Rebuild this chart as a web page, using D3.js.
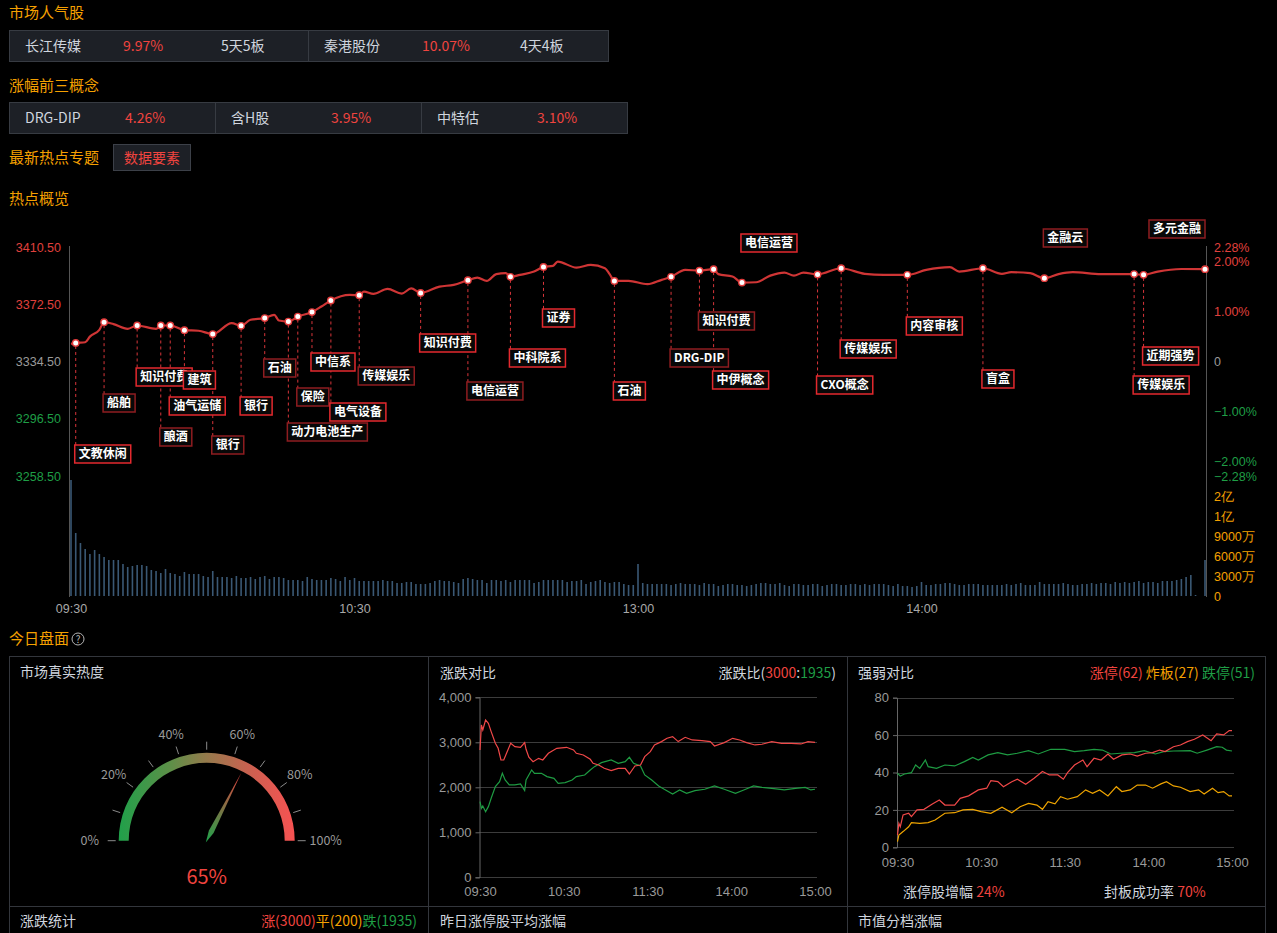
<!DOCTYPE html>
<html>
<head>
<meta charset="utf-8">
<script src="https://cdn.jsdelivr.net/npm/d3@7"></script>
<style>
  body { margin: 0; background: #000; }
  svg { display: block; font-family: "Noto Sans CJK SC", "Noto Sans", sans-serif; }
</style>
</head>
<body>
<svg width="1277" height="933"></svg>
<script>
"use strict";

// ---------- data ----------
const hotStockNames = ["长江传媒", "秦港股份"];
const hotStockChange = ["9.97%", "10.07%"];
const hotStockBoards = ["5天5板", "4天4板"];
const conceptNames = ["DRG-DIP", "含H股", "中特估"];
const conceptChange = ["4.26%", "3.95%", "3.10%"];
const topicNames = ["数据要素"];

const baseClose = 3334.5;
const priceTicks = [3410.5, 3372.5, 3334.5, 3296.5, 3258.5];
const pctTicks = [2.28, 2, 1, 0, -1, -2, -2.28];
const volTicks = [0, 3000, 6000, 9000, 10000, 20000]; // 万
const volTickLabels = ["0", "3000万", "6000万", "9000万", "1亿", "2亿"];
const mainTimeTicks = [0, 60, 120, 180];
const mainTimeLabels = ["09:30", "10:30", "13:00", "14:00"];

// minutes since 09:30 (lunch removed) and index level
const priceMinute = [0,1,3,4,6,7,9,12,14,18,19,21,24,27,30,34,36,38,41,43,44,46,48,51,53,55,59,61,62,64,67,70,72,74,78,81,84,86,88,90,92,93,95,98,100,102,103,107,110,113,114,115,118,122,125,127,130,133,136,137,140,142,145,148,151,153,155,158,163,168,172,177,181,186,188,193,197,199,203,206,209,212,218,225,227,230,235,240];
const priceValue = [3346.2,3346.8,3347.3,3351.0,3355.5,3360.6,3359.3,3356.2,3358.4,3356.2,3358.4,3358.4,3355.3,3354.9,3352.7,3360.0,3358.2,3362.2,3363.3,3365.5,3361.7,3361.0,3364.3,3367.3,3371.0,3375.0,3378.7,3378.5,3380.9,3379.4,3382.7,3379.6,3383.0,3380.0,3384.2,3385.4,3388.5,3390.2,3388.0,3392.5,3393.1,3390.7,3392.0,3394.2,3397.3,3398.0,3400.8,3396.8,3398.6,3396.4,3392.5,3388.0,3388.0,3385.8,3388.7,3390.7,3395.3,3394.8,3395.8,3392.5,3390.9,3386.9,3387.1,3391.5,3393.5,3391.5,3393.5,3392.3,3396.4,3392.7,3392.0,3392.0,3395.3,3397.1,3394.2,3396.4,3392.7,3393.8,3393.1,3389.8,3392.5,3393.8,3392.5,3392.5,3392.0,3394.2,3395.9,3395.8];

// turnover per minute, 万
const volume = [
  28000,9150,7950,7050,6300,6900,6300,5850,5400,5400,
  5400,4800,4350,4500,4650,4650,4500,3900,3750,3450,
  4050,3450,3300,3000,3600,3300,3300,3300,3000,2850,
  3750,2850,2850,2850,2700,3000,2700,2700,2850,2550,
  2850,3000,2550,2850,2850,2700,2400,2400,2400,2250,
  2850,2550,2400,2400,2400,2700,2550,2250,2850,2400,
  2700,2250,2250,2250,2250,2250,2400,2250,2250,1950,
  1950,2100,2100,1800,1800,1800,1950,2250,2400,2250,
  2250,2100,1950,2550,2700,2550,2400,2400,1950,2400,
  2400,2250,2400,2100,2400,2400,2400,2400,1950,2100,
  2400,2400,2400,2400,2400,2100,2250,2250,2400,1800,
  2100,2250,2400,2100,1950,2100,2100,1800,1650,1650,
  4800,
  1950,1800,1800,1800,1800,1800,1650,1800,1950,1800,
  1800,1800,1650,1950,1800,1800,1500,1650,1800,1800,
  1650,1650,1500,1650,1800,1950,1950,1800,1800,1950,
  1650,1500,1800,1800,1650,1650,1800,1800,1500,1650,
  1800,1800,1650,1650,1800,1800,1650,1800,1650,1800,
  1800,1800,1650,1500,1800,1500,1500,1350,1500,2100,
  1650,1650,1800,1800,1950,1950,1800,1650,1650,1800,
  1800,1800,1650,1650,1650,1650,1650,1800,1650,1800,
  1950,1650,1650,1650,2100,1800,1800,1800,1800,1950,
  1800,1650,1650,1800,1800,1950,1800,1950,1950,1800,
  2100,1950,2100,1950,2100,2250,1950,2100,2100,1950,
  2250,2250,2250,2400,2550,2850,3150,150,0,5400
];

// hot topics marked on the index line
const hotMinute = [1,7,14,19,21,24,30,36,41,46,48,51,55,61,74,84,93,100,115,127,133,136,142,158,163,177,193,206,225,227,240];
const hotNames = ["文教休闲","船舶","知识付费","酿酒","油气运储","建筑","银行","银行","石油","动力电池生产","保险","中信系","电气设备","传媒娱乐","知识付费","电信运营","中科院系","证券","石油","DRG-DIP","知识付费","中伊概念","电信运营","CXO概念","传媒娱乐","内容审核","盲盒","金融云","传媒娱乐","近期强势","多元金融"];

// label placement (layout only): box top in px, bright border or not
const hotLabelTop = [445,394,368,428,397,371,436,397,359,423,388,353,403,367,334,382,349,309,382,349,312,371,234,376,340,317,370,229,376,347,220];
const hotLabelBright = [1,0,1,0,1,1,0,1,0,0,0,1,1,0,1,0,1,1,1,0,0,1,1,1,1,1,1,0,1,1,0];

// today's board
const heatValue = 65;
const heatLabels = [0, 20, 40, 60, 80, 100];
const heatTicks = [0, 10, 20, 30, 40, 50, 60, 70, 80, 90, 100];
const upTotal = 3000, flatTotal = 200, downTotal = 1935;
const limitUpTotal = 62, brokenTotal = 27, limitDownTotal = 51;
const limitUpGrowth = "24%", sealRate = "70%";

const miniTimeTicks = [0, 60, 120, 180, 240];
const miniTimeLabels = ["09:30", "10:30", "11:30", "14:00", "15:00"];
const upDownTicks = [0, 1000, 2000, 3000, 4000];
const limitTicks = [0, 20, 40, 60, 80];

const upCount = [[0,2830],[1,3385],[2,3274],[4,3496],[6,3422],[8,3237],[11,2978],[13,2867],[15,2607],[17,2607],[19,2755],[22,2978],[25,2904],[29,2889],[32,2993],[33,2844],[35,2667],[38,2570],[42,2644],[45,2607],[49,2756],[55,2867],[62,2889],[67,2830],[69,2756],[74,2718],[79,2622],[81,2533],[85,2496],[89,2422],[94,2370],[99,2422],[104,2422],[107,2296],[111,2474],[115,2496],[118,2681],[122,2793],[125,2941],[130,3015],[134,3089],[138,3126],[142,3015],[147,3111],[152,3052],[159,3037],[165,3015],[168,2919],[175,2993],[181,3089],[186,3052],[191,2993],[197,2941],[202,2956],[209,3015],[216,2978],[223,2978],[230,2963],[235,3015],[240,3000]];
const downCount = [[0,1681],[1,1533],[2,1585],[4,1459],[6,1570],[8,1756],[11,2015],[14,2126],[16,2311],[18,2163],[21,2052],[25,2052],[29,2074],[32,1926],[33,2163],[37,2385],[39,2311],[44,2311],[48,2237],[53,2200],[56,2089],[61,2104],[66,2163],[69,2237],[75,2274],[79,2385],[82,2459],[87,2548],[94,2607],[99,2533],[104,2570],[107,2667],[110,2533],[115,2474],[118,2274],[123,2163],[128,2030],[132,1956],[138,1852],[143,1941],[148,1867],[154,1926],[161,1956],[168,2030],[175,1956],[183,1867],[189,1941],[196,2030],[202,2000],[209,1978],[218,1941],[226,1978],[233,1998],[237,1941],[240,1956]];

const limitUp = [[0,6.6],[1,12.8],[2,11],[4,17.3],[8,18.2],[10,16.4],[14,20],[19,20.3],[25,23.2],[30,25.3],[34,22.6],[41,22.6],[45,26.2],[51,27.5],[58,30.7],[64,31.6],[67,35.7],[72,35.1],[76,32.4],[82,35.1],[86,36.4],[92,33.7],[98,36.9],[104,40.5],[109,38.7],[115,38.7],[119,36.4],[122,39.9],[127,44],[133,46.7],[136,43.1],[141,47.6],[146,46.7],[151,49.9],[155,47.1],[161,49.4],[167,49.9],[172,48.8],[178,50.3],[183,50.6],[188,52],[192,51.2],[198,53.8],[203,54.7],[208,56.5],[213,57.8],[219,60.1],[225,57],[229,60.6],[234,60.1],[238,62.4],[240,62.4]];
const limitBroken = [[0,3],[1,6.6],[4,8.4],[8,11],[10,13.2],[16,12.8],[22,13.2],[27,14.6],[34,18.2],[41,18.5],[47,20],[54,20.3],[60,19.1],[67,18.2],[75,21.4],[82,18.5],[88,21.7],[94,23.5],[100,22.6],[104,20.3],[108,24.4],[113,23.2],[117,27.1],[122,25.7],[129,27.1],[135,30.7],[140,28.9],[145,30.7],[151,27.5],[157,32.4],[161,29.8],[167,30.7],[172,33.3],[178,33.3],[183,31.6],[189,33.9],[193,35.1],[198,32.8],[203,32.1],[210,29.8],[216,30.7],[220,28.5],[226,31.6],[230,29.2],[234,29.8],[238,27.5],[240,27.5]];
const limitDown = [[0,39.6],[2,38.1],[5,39.2],[10,39.9],[13,44],[16,42.2],[20,46.7],[22,43.1],[28,42.2],[34,44],[41,43.5],[48,45.8],[54,48.1],[58,46.7],[65,49.4],[72,50.6],[79,49.4],[86,50.3],[94,51.7],[101,49.9],[110,52.4],[120,52.4],[127,51.2],[134,51.7],[141,52.4],[147,52],[153,49.9],[160,50.3],[170,50.6],[177,51.7],[185,49.9],[191,51.2],[198,51.5],[210,51.7],[215,50.3],[222,52],[229,53.8],[233,53.5],[236,52],[240,51.5]];

// ---------- style ----------
const RED = "#f0443f";
const GREEN = "#1f9e46";
const ORANGE = "#f5a000";
const GRAY = "#9a9a9a";
const LIGHT = "#cfd5de";
const CARD = "#1d2026";
const CARD_LINE = "#373b42";
const PANEL_LINE = "#33363c";

const svg = d3.select("svg");

const sectionTitle = (txt, y) =>
  svg.append("text")
    .attr("x", 9).attr("y", y).attr("dy", "0.35em")
    .attr("fill", ORANGE).attr("font-size", 15)
    .text(txt);

const plainText = (txt, x, y, color, size, anchor) =>
  svg.append("text")
    .attr("x", x).attr("y", y).attr("dy", "0.35em")
    .attr("fill", color).attr("font-size", size || 14)
    .attr("text-anchor", anchor || "start")
    .text(txt);

// ---------- top cards ----------
sectionTitle("市场人气股", 13);
svg.append("rect").attr("x", 9.5).attr("y", 30.5).attr("width", 599).attr("height", 31)
  .attr("fill", CARD).attr("stroke", CARD_LINE);
svg.append("line").attr("x1", 308.5).attr("x2", 308.5).attr("y1", 31).attr("y2", 61).attr("stroke", CARD_LINE);
hotStockNames.forEach((n, i) => {
  const ox = i * 299;
  plainText(n, 25 + ox, 46, LIGHT);
  plainText(hotStockChange[i], 123 + ox, 46, RED);
  plainText(hotStockBoards[i], 221 + ox, 46, LIGHT);
});

sectionTitle("涨幅前三概念", 86);
svg.append("rect").attr("x", 9.5).attr("y", 102.5).attr("width", 618).attr("height", 31)
  .attr("fill", CARD).attr("stroke", CARD_LINE);
[215.5, 421.5].forEach(d =>
  svg.append("line").attr("x1", d).attr("x2", d).attr("y1", 103).attr("y2", 133).attr("stroke", CARD_LINE));
conceptNames.forEach((n, i) => {
  const ox = i * 206;
  plainText(n, 25 + ox, 118, LIGHT);
  plainText(conceptChange[i], 125 + ox, 118, RED);
});

sectionTitle("最新热点专题", 158);
topicNames.forEach((n, i) => {
  svg.append("rect").attr("x", 113.5 + i * 90).attr("y", 144.5).attr("width", 77).attr("height", 26)
    .attr("fill", CARD).attr("stroke", "#3c4048");
  plainText(n, 152 + i * 90, 158, RED, 14, "middle");
});

sectionTitle("热点概览", 199);

// ---------- main chart ----------
const x = d3.scaleLinear().domain([0, 240]).range([71, 1205]);
const yPrice = d3.scaleLinear().domain([3258.5, 3410.5]).range([476, 247]);
const yPct = d3.scaleLinear().domain([-2.28, 2.28]).range([476, 247]);
const yVol = d3.scaleLinear().domain(volTicks).range([596, 576, 556, 536, 516, 496]);

const main = svg.append("g");

main.append("line").attr("x1", 69.5).attr("x2", 69.5).attr("y1", 246).attr("y2", 597).attr("stroke", "#555");
main.append("line").attr("x1", 1206.5).attr("x2", 1206.5).attr("y1", 246).attr("y2", 597).attr("stroke", "#555");

const priceColor = v => v > baseClose ? "#e0403d" : v < baseClose ? GREEN : GRAY;

const leftAxisG = main.append("g").attr("transform", "translate(69,0)")
  .call(d3.axisLeft(yPrice).tickValues(priceTicks).tickFormat(d3.format(".2f")).tickSize(0).tickPadding(8));
leftAxisG.select(".domain").remove();
leftAxisG.selectAll("text").attr("font-size", 12.5).attr("font-family", null)
  .attr("fill", d => priceColor(d));

const rightAxisG = main.append("g").attr("transform", "translate(1206,0)")
  .call(d3.axisRight(yPct).tickValues(pctTicks)
    .tickFormat(d => d === 0 ? "0" : d3.format(".2f")(d) + "%").tickSize(0).tickPadding(8));
rightAxisG.select(".domain").remove();
rightAxisG.selectAll("text").attr("font-size", 12.5).attr("font-family", null)
  .attr("fill", d => d > 0 ? "#e0403d" : d < 0 ? GREEN : GRAY);

const volAxisG = main.append("g").attr("transform", "translate(1206,0)")
  .call(d3.axisRight(yVol).tickValues(volTicks).tickFormat((d, i) => volTickLabels[i]).tickSize(0).tickPadding(8));
volAxisG.select(".domain").remove();
volAxisG.selectAll("text").attr("font-size", 12.5).attr("font-family", null).attr("fill", ORANGE);

const timeAxisG = main.append("g").attr("transform", "translate(0,600)")
  .call(d3.axisBottom(x).tickValues(mainTimeTicks).tickFormat((d, i) => mainTimeLabels[i]).tickSize(0).tickPadding(4));
timeAxisG.select(".domain").remove();
timeAxisG.selectAll("text").attr("font-size", 12.5).attr("font-family", null).attr("fill", "#a8a8a8");

// volume bars
main.append("g").selectAll("rect")
  .data(volume)
  .enter()
  .append("rect")
  .attr("x", (d, i) => x(i) - 0.8)
  .attr("width", 1.6)
  .attr("y", d => yVol(d))
  .attr("height", d => yVol(0) - yVol(d))
  .attr("fill", "#3a5874");

// index line
const pricePts = priceMinute.map((m, i) => [m, priceValue[i]]);
const priceAt = m => priceValue[priceMinute.indexOf(m)];

const hot = hotMinute.map((m, i) => ({
  m, name: hotNames[i], top: hotLabelTop[i], bright: hotLabelBright[i],
  px: x(m), py: yPrice(priceAt(m))
}));

main.append("g").selectAll("line")
  .data(hot.filter(d => d.top > d.py))
  .enter()
  .append("line")
  .attr("x1", d => d.px).attr("x2", d => d.px)
  .attr("y1", d => d.py + 3).attr("y2", d => d.top)
  .attr("stroke", "#d9353a").attr("stroke-width", 1)
  .attr("stroke-dasharray", "3,3");

main.append("path")
  .datum(pricePts)
  .attr("fill", "none")
  .attr("stroke", "#cf3535")
  .attr("stroke-width", 2.2)
  .attr("d", d3.line().x(d => x(d[0])).y(d => yPrice(d[1])).curve(d3.curveMonotoneX));

main.append("g").selectAll("circle")
  .data(hot)
  .enter()
  .append("circle")
  .attr("cx", d => d.px).attr("cy", d => d.py)
  .attr("r", 3.2)
  .attr("fill", "#fff")
  .attr("stroke", "#e03a3a")
  .attr("stroke-width", 1.4);

const labelG = main.append("g");
hot.forEach(d => {
  const g = labelG.append("g");
  const rect = g.append("rect");
  const t = g.append("text")
    .attr("y", d.top + 9).attr("dy", "0.36em")
    .attr("fill", "#fff").attr("font-size", 12).attr("font-weight", "bold")
    .text(d.name);
  const w = t.node().getComputedTextLength() + 8;
  const bx = Math.min(d.px - 1, 1205 - w);
  t.attr("x", bx + 4);
  rect.attr("x", bx).attr("y", d.top).attr("width", w).attr("height", 18)
    .attr("fill", "#080808")
    .attr("stroke", d.bright ? "#e3292e" : "#8e1d20")
    .attr("stroke-width", 1.5);
});

// ---------- today's board ----------
sectionTitle("今日盘面", 639);
svg.append("circle").attr("cx", 78).attr("cy", 639).attr("r", 6)
  .attr("fill", "none").attr("stroke", "#b5b5b5").attr("stroke-width", 1);
plainText("?", 78, 639, "#b5b5b5", 10, "middle");

svg.append("rect").attr("x", 9.5).attr("y", 656.5).attr("width", 1256).attr("height", 300)
  .attr("fill", "none").attr("stroke", PANEL_LINE);
[428.5, 847.5].forEach(d =>
  svg.append("line").attr("x1", d).attr("x2", d).attr("y1", 657).attr("y2", 933).attr("stroke", PANEL_LINE));
svg.append("line").attr("x1", 10).attr("x2", 1265).attr("y1", 906.5).attr("y2", 906.5).attr("stroke", PANEL_LINE);

plainText("市场真实热度", 20, 672, LIGHT, 14);
plainText("涨跌对比", 440, 673, LIGHT, 14);
plainText("强弱对比", 858, 673, LIGHT, 14);
plainText("涨跌统计", 20, 921, LIGHT, 14);
plainText("昨日涨停股平均涨幅", 440, 921, LIGHT, 14);
plainText("市值分档涨幅", 858, 921, LIGHT, 14);

const multiText = (parts, x0, y0, anchor) => {
  const t = svg.append("text").attr("x", x0).attr("y", y0).attr("dy", "0.35em")
    .attr("font-size", 14).attr("text-anchor", anchor);
  parts.forEach(p => t.append("tspan").attr("fill", p[1]).text(p[0]));
  return t;
};
multiText([["涨(" + upTotal + ")", RED], ["平(" + flatTotal + ")", ORANGE], ["跌(" + downTotal + ")", GREEN]], 417, 921, "end");
multiText([["涨跌比(", LIGHT], [String(upTotal), RED], [":", LIGHT], [String(downTotal), GREEN], [")", LIGHT]], 836, 673, "end");
multiText([["涨停(" + limitUpTotal + ") ", RED], ["炸板(" + brokenTotal + ") ", ORANGE], ["跌停(" + limitDownTotal + ")", GREEN]], 1255, 673, "end");

// gauge
const gcx = 206.7, gcy = 840.7;
const heatAngle = d3.scaleLinear().domain([0, 100]).range([-Math.PI / 2, Math.PI / 2]);
const defs = svg.append("defs");
const gg = defs.append("linearGradient").attr("id", "heatGrad")
  .attr("gradientUnits", "userSpaceOnUse")
  .attr("x1", -88).attr("x2", 88).attr("y1", 0).attr("y2", 0);
gg.append("stop").attr("offset", "0%").attr("stop-color", "#20a04a");
gg.append("stop").attr("offset", "30%").attr("stop-color", "#5f8f48");
gg.append("stop").attr("offset", "50%").attr("stop-color", "#957a4c");
gg.append("stop").attr("offset", "75%").attr("stop-color", "#cc6050");
gg.append("stop").attr("offset", "100%").attr("stop-color", "#f75252");

const gauge = svg.append("g").attr("transform", `translate(${gcx},${gcy})`);
gauge.append("path")
  .attr("d", d3.arc().innerRadius(78).outerRadius(88).startAngle(heatAngle(0)).endAngle(heatAngle(100))())
  .attr("fill", "url(#heatGrad)");

const polar = (a, r) => [r * Math.sin(a), -r * Math.cos(a)];
gauge.selectAll(".htick")
  .data(heatTicks)
  .enter()
  .append("line")
  .attr("class", "htick")
  .attr("x1", d => polar(heatAngle(d), 91)[0]).attr("y1", d => polar(heatAngle(d), 91)[1])
  .attr("x2", d => polar(heatAngle(d), 99)[0]).attr("y2", d => polar(heatAngle(d), 99)[1])
  .attr("stroke", "#8a8a8a").attr("stroke-width", 1);
gauge.selectAll(".hlabel")
  .data(heatLabels)
  .enter()
  .append("text")
  .attr("class", "hlabel")
  .attr("x", d => polar(heatAngle(d), 115)[0] + (d === 0 ? -2 : d === 100 ? 4 : 0))
  .attr("y", d => polar(heatAngle(d), 112)[1])
  .attr("dy", "0.35em")
  .attr("text-anchor", "middle")
  .attr("font-size", 12.5)
  .attr("fill", "#9a9a9a")
  .text(d => d + "%");

const na = heatAngle(heatValue);
const tip = polar(na, 76);
const perp = [Math.cos(na), Math.sin(na)];
const ng = defs.append("linearGradient").attr("id", "needleGrad")
  .attr("gradientUnits", "userSpaceOnUse")
  .attr("x1", 0).attr("y1", 0).attr("x2", tip[0]).attr("y2", tip[1]);
ng.append("stop").attr("offset", "0%").attr("stop-color", "#22a04a");
ng.append("stop").attr("offset", "100%").attr("stop-color", "#e5403e");
const side = polar(na, 10);
const tail = polar(na, -2);
gauge.append("path")
  .attr("d", `M${tip[0]},${tip[1]} L${side[0] + perp[0] * 2.6},${side[1] + perp[1] * 2.6} L${tail[0]},${tail[1]} L${side[0] - perp[0] * 2.6},${side[1] - perp[1] * 2.6} Z`)
  .attr("fill", "url(#needleGrad)");
gauge.append("text")
  .attr("x", 0).attr("y", 36).attr("dy", "0.35em")
  .attr("text-anchor", "middle").attr("font-size", 20).attr("fill", RED)
  .text(heatValue + "%");

// mini line charts
const miniChart = (opt) => {
  const xs = d3.scaleLinear().domain([0, 240]).range(opt.xr);
  const ys = d3.scaleLinear().domain(opt.yd).range(opt.yr);
  const g = svg.append("g");
  g.selectAll(".grid")
    .data(opt.ticks)
    .enter()
    .append("line")
    .attr("x1", opt.xr[0] - 1).attr("x2", opt.xr[1] + 2)
    .attr("y1", d => Math.round(ys(d)) + 0.5).attr("y2", d => Math.round(ys(d)) + 0.5)
    .attr("stroke", "#3c3c3c");
  const ya = g.append("g").attr("transform", `translate(${opt.xr[0] - 0.5},0)`)
    .call(d3.axisLeft(ys).tickValues(opt.ticks).tickFormat(opt.fmt).tickSize(4).tickPadding(4));
  ya.select(".domain").attr("stroke", "#666");
  ya.selectAll("line").attr("stroke", "#666");
  ya.selectAll("text").attr("font-size", 13).attr("font-family", null).attr("fill", GRAY);
  const xa = g.append("g").attr("transform", `translate(0,${opt.yr[0]})`)
    .call(d3.axisBottom(xs).tickValues(miniTimeTicks).tickFormat((d, i) => miniTimeLabels[i]).tickSize(0).tickPadding(opt.pad));
  xa.select(".domain").remove();
  xa.selectAll("text").attr("font-size", 13).attr("font-family", null).attr("fill", GRAY);
  const line = d3.line().x(d => xs(d[0])).y(d => ys(d[1]));
  opt.series.forEach(s => {
    g.append("path").datum(s[0])
      .attr("fill", "none").attr("stroke", s[1]).attr("stroke-width", 1.2)
      .attr("d", line);
  });
};

miniChart({
  xr: [480, 815], yd: [0, 4000], yr: [877.3, 697.3], pad: 9,
  ticks: upDownTicks, fmt: d3.format(","),
  series: [[downCount, "#1e9b42"], [upCount, "#f04848"]]
});

miniChart({
  xr: [897.5, 1232], yd: [0, 80], yr: [847.3, 697.7], pad: 10,
  ticks: limitTicks, fmt: d3.format("d"),
  series: [[limitDown, "#1e9b42"], [limitBroken, "#f0a500"], [limitUp, "#f04848"]]
});

multiText([["涨停股增幅  ", LIGHT], [limitUpGrowth, RED]], 903, 892, "start");
multiText([["封板成功率 ", LIGHT], [sealRate, RED]], 1104, 892, "start");
</script>
</body>
</html>
